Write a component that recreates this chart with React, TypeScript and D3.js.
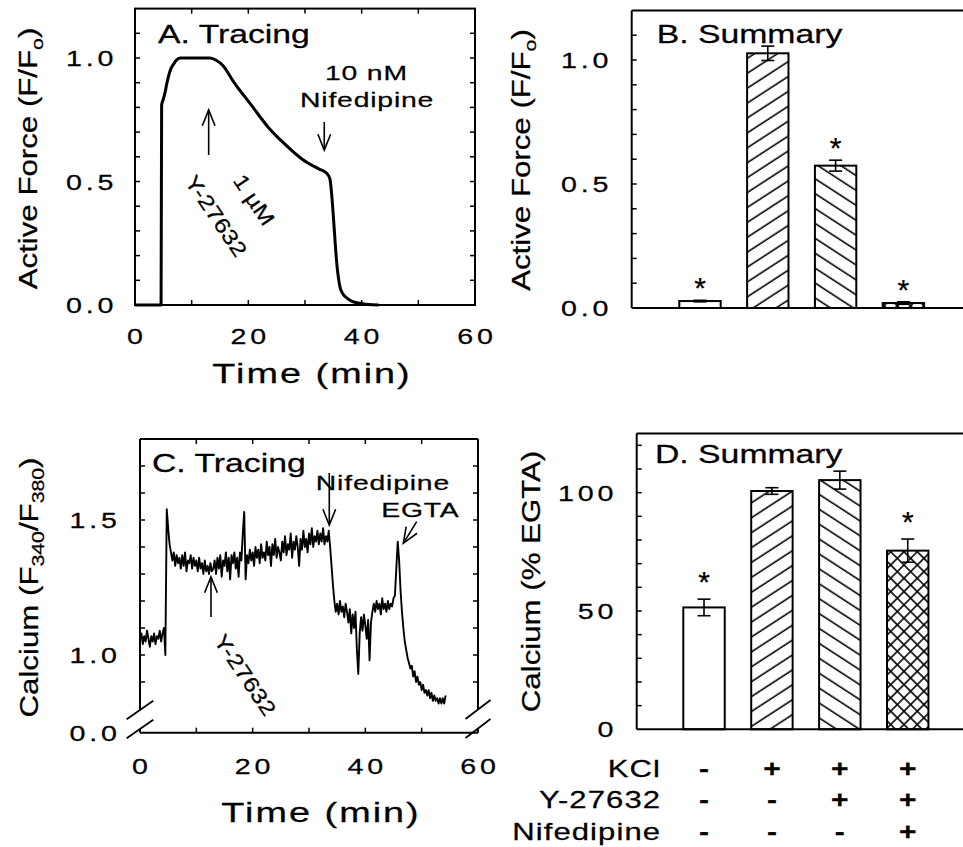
import React from "react";
import * as d3 from "d3";

// ---------- DATA ----------
// Panel A: active force tracing
const forceTime = [0, 4.6, 4.7, 4.95, 5.3, 5.6, 5.9, 6.3, 6.8, 7.4, 8.0, 13.2, 14.4, 15.5, 17.5, 20.5, 23.5, 26.5, 29.5, 32.5, 33.8, 34.4, 34.7, 35.0, 35.3, 35.6, 35.9, 36.2, 36.7, 37.4, 38.3, 39.7, 41.2, 43];
const forceValue = [0, 0, 0.81, 0.83, 0.86, 0.895, 0.925, 0.955, 0.975, 0.993, 1.0, 1.0, 0.99, 0.97, 0.9, 0.81, 0.72, 0.65, 0.59, 0.55, 0.534, 0.51, 0.45, 0.36, 0.26, 0.17, 0.11, 0.07, 0.045, 0.028, 0.015, 0.007, 0.002, 0];

// Panel C: calcium tracing (sampled every 0.25 min from t = 0)
const calciumStart = 0;
const calciumStep = 0.25;
const calciumValue = [
  1.06, 1.08, 1.04, 1.07, 1.05, 1.09, 1.06, 1.03, 1.07, 1.05, 1.08, 1.04, 1.07, 1.06, 1.09, 1.05,
  1.08, 1.10, 1.00, 1.54, 1.47, 1.41, 1.38, 1.35, 1.38, 1.33, 1.37, 1.34, 1.36, 1.32, 1.37, 1.33,
  1.38, 1.31, 1.35, 1.34, 1.37, 1.32, 1.36, 1.33, 1.35, 1.31, 1.36, 1.32, 1.34, 1.30, 1.35, 1.31,
  1.33, 1.30, 1.34, 1.31, 1.32, 1.35, 1.30, 1.36, 1.32, 1.37, 1.29, 1.35, 1.33, 1.38, 1.31, 1.36,
  1.28, 1.37, 1.34, 1.38, 1.32, 1.36, 1.29, 1.38, 1.35, 1.45, 1.53, 1.28, 1.37, 1.34, 1.39, 1.35,
  1.38, 1.33, 1.40, 1.36, 1.39, 1.34, 1.41, 1.36, 1.38, 1.35, 1.42, 1.37, 1.40, 1.33, 1.41, 1.37,
  1.43, 1.36, 1.40, 1.38, 1.35, 1.42, 1.38, 1.44, 1.37, 1.41, 1.39, 1.45, 1.36, 1.42, 1.39, 1.44,
  1.40, 1.33, 1.43, 1.39, 1.46, 1.40, 1.43, 1.38, 1.45, 1.41, 1.47, 1.40, 1.44, 1.42, 1.46, 1.41,
  1.45, 1.42, 1.47, 1.41, 1.44, 1.42, 1.46, 1.40, 1.33, 1.26, 1.20, 1.16, 1.19, 1.15, 1.20, 1.16,
  1.18, 1.14, 1.19, 1.16, 1.12, 1.17, 1.08, 1.15, 1.10, 1.16, 1.02, 0.93, 1.08, 1.14, 1.09, 1.15,
  1.11, 1.06, 1.13, 0.98, 1.12, 1.16, 1.19, 1.16, 1.20, 1.17, 1.19, 1.15, 1.21, 1.17, 1.19, 1.16,
  1.20, 1.17, 1.19, 1.18, 1.21, 1.22, 1.32, 1.42, 1.35, 1.24, 1.16, 1.10, 1.05, 1.02, 0.99, 0.97,
  0.95, 0.96, 0.92, 0.94, 0.90, 0.92, 0.89, 0.90, 0.87, 0.89, 0.86, 0.87, 0.85, 0.87, 0.84, 0.86,
  0.83, 0.85, 0.83, 0.84, 0.82, 0.84, 0.82, 0.84, 0.82, 0.85,
];

// Summary bars
const groups = ["Control", "KCl", "KCl+Y-27632", "KCl+Y-27632+Nifedipine"];
const groupPattern = ["none", "fwd", "back", "cross"];
const forceMean = [0.028, 1.027, 0.574, 0.02];
const forceErr = [0.003, 0.029, 0.022, 0.005];
const forceStar = [true, false, true, true];
const calciumMean = [51.5, 100.7, 105.3, 75.5];
const calciumErr = [3.5, 1.4, 3.8, 4.9];
const calciumStar = [true, false, false, true];

// Treatment table
const rowLabels = ["KCl", "Y-27632", "Nifedipine"];
const rowSigns = [
  ["-", "+", "+", "+"],
  ["-", "-", "+", "+"],
  ["-", "-", "-", "+"],
];

// Tick labels
const timeTicks = [0, 20, 40, 60];
const forceTicks = [0, 0.5, 1.0];
const calciumRatioTicks = [1.0, 1.5];
const calciumPctTicks = [0, 50, 100];

// ---------- LAYOUT ----------
const FONT = "'Liberation Sans', Arial, Helvetica, sans-serif";
const W = 963;
const H = 847;

const xA = d3.scaleLinear().domain([0, 60]).range([135, 475]);
const yA = d3.scaleLinear().domain([0, 1.2]).range([305, 8.6]);
const yB = d3.scaleLinear().domain([0, 1.2]).range([308, 10.4]);
const xB = d3.scaleBand<string>().domain(groups).range([645.4, 958]).paddingInner(0.39).paddingOuter(0.5);
const xC = d3.scaleLinear().domain([0, 60]).range([140, 478]);
const yC = d3.scaleLinear().domain([0.8, 1.8]).range([709, 439]);
const yC0 = 732.7;
const yD = d3.scaleLinear().domain([0, 125]).range([729.3, 433.5]);
const xD = d3.scaleBand<string>().domain(groups).range([649.35, 962.4]).paddingInner(0.39).paddingOuter(0.5);

const fmt1 = d3.format(".1f");

function T(props: any) {
  const { x, y, size = 21, anchor = "start", sx = 1.35, ls = 0, rot = 0, weight = 400, children } = props;
  const dx = anchor === "end" ? ls : anchor === "middle" ? ls / 2 : 0;
  return (
    <g transform={`translate(${x},${y}) rotate(${rot}) scale(${sx},1)`}>
      <text x={dx} y={0} fontSize={size} textAnchor={anchor} letterSpacing={ls} fontFamily={FONT} fontWeight={weight} fill="#000" stroke="#000" strokeWidth={0.25}>
        {children}
      </text>
    </g>
  );
}

function Arrow({ x1, y1, x2, y2 }: any) {
  const ang = Math.atan2(y2 - y1, x2 - x1);
  const L = 17;
  const a = (22 * Math.PI) / 180;
  const p1 = [x2 - L * Math.cos(ang - a), y2 - L * Math.sin(ang - a)];
  const p2 = [x2 - L * Math.cos(ang + a), y2 - L * Math.sin(ang + a)];
  return (
    <g stroke="#000" strokeWidth={1.6} fill="none">
      <line x1={x1} y1={y1} x2={x2} y2={y2} />
      <polyline points={`${p1[0]},${p1[1]} ${x2},${y2} ${p2[0]},${p2[1]}`} />
    </g>
  );
}

function Bars({ xs, ys, mean, err, star, starOff }: any) {
  const bw = xs.bandwidth();
  const base = ys(0);
  return (
    <g>
      {groups.map((g, i) => {
        const x0 = xs(g);
        const top = ys(mean[i]);
        const pat = groupPattern[i];
        const cx = x0 + bw / 2;
        const eT = ys(mean[i] + err[i]);
        const eB = ys(mean[i] - err[i]);
        return (
          <g key={g}>
            <rect x={x0} y={top} width={bw} height={base - top} fill="#fff" />
            {pat !== "none" && <rect x={x0} y={top} width={bw} height={base - top} fill={`url(#${pat})`} />}
            <rect x={x0} y={top} width={bw} height={base - top} fill="none" stroke="#000" strokeWidth={2} />
            <g stroke="#000" strokeWidth={1.6}>
              <line x1={cx} x2={cx} y1={eT} y2={eB} />
              <line x1={cx - 6.5} x2={cx + 6.5} y1={eT} y2={eT} />
              <line x1={cx - 6.5} x2={cx + 6.5} y1={eB} y2={eB} />
            </g>
            {star[i] && (
              <T x={cx} y={eT - starOff + 17} size={30} anchor="middle" sx={1}>
                *
              </T>
            )}
          </g>
        );
      })}
    </g>
  );
}

export default function App() {
  const lineA = d3
    .line<number>()
    .x((_, i) => xA(forceTime[i]))
    .y((v) => yA(v))
    .curve(d3.curveMonotoneX)(forceValue);
  const lineC = d3
    .line<number>()
    .x((_, i) => xC(calciumStart + i * calciumStep))
    .y((v) => yC(v))(calciumValue);

  const tenTicks = d3.range(10, 60, 10);
  const aYMinor = d3.range(1, 12).map((k) => k / 10);
  const cYMinor = d3.range(9, 18).map((k) => k / 10);
  const dYMinor = d3.range(10, 121, 10);

  const tickLab = { size: 22, sx: 1.3, ls: 3 };

  return (
    <svg width={W} height={H} style={{ position: "absolute", left: 0, top: 0, background: "#fff" }} xmlns="http://www.w3.org/2000/svg">
      <defs>
        <pattern id="fwd" patternUnits="userSpaceOnUse" width={20} height={12.5} patternTransform="rotate(-33)">
          <line x1={-1} y1={6} x2={21} y2={6} stroke="#000" strokeWidth={1.6} />
        </pattern>
        <pattern id="back" patternUnits="userSpaceOnUse" width={20} height={12.5} patternTransform="rotate(33)">
          <line x1={-1} y1={6} x2={21} y2={6} stroke="#000" strokeWidth={1.6} />
        </pattern>
        <pattern id="cross" patternUnits="userSpaceOnUse" width={9.4} height={9.4} patternTransform="rotate(45)">
          <line x1={-1} y1={4.7} x2={10.4} y2={4.7} stroke="#000" strokeWidth={1.6} />
          <line x1={4.7} y1={-1} x2={4.7} y2={10.4} stroke="#000" strokeWidth={1.6} />
        </pattern>
      </defs>
      <rect x={0} y={0} width={W} height={H} fill="#fff" />

      {/* ================= Panel A ================= */}
      <g stroke="#000" strokeWidth={2} fill="none">
        <rect x={xA(0)} y={yA(1.2)} width={xA(60) - xA(0)} height={yA(0) - yA(1.2)} />
        {aYMinor.map((v) => (
          <g key={v}>
            <line x1={xA(0)} x2={xA(0) + 5} y1={yA(v)} y2={yA(v)} strokeWidth={1.5} />
            <line x1={xA(60)} x2={xA(60) - 5} y1={yA(v)} y2={yA(v)} strokeWidth={1.5} />
          </g>
        ))}
        {tenTicks.map((t) => (
          <g key={t}>
            <line x1={xA(t)} x2={xA(t)} y1={yA(0)} y2={yA(0) - 5} strokeWidth={1.5} />
            <line x1={xA(t)} x2={xA(t)} y1={yA(1.2)} y2={yA(1.2) + 5} strokeWidth={1.5} />
          </g>
        ))}
      </g>
      <path d={lineA || ""} fill="none" stroke="#000" strokeWidth={3} strokeLinejoin="round" />
      {forceTicks.map((v) => (
        <T key={v} x={113.5} y={yA(v) + 8} anchor="end" {...tickLab}>
          {fmt1(v)}
        </T>
      ))}
      {timeTicks.map((t) => (
        <T key={t} x={xA(t)} y={343.5} anchor="middle" {...tickLab}>
          {t}
        </T>
      ))}
      <T x={311} y={383} size={28} anchor="middle" sx={1.35} ls={1.5}>
        Time (min)
      </T>
      <T x={37} y={158.5} size={25} anchor="middle" sx={1.25} rot={-90}>
        Active Force (F/F<tspan fontSize={17} dy={6}>o</tspan>
        <tspan dy={-6}>)</tspan>
      </T>
      <T x={158} y={43} size={25}>
        A. Tracing
      </T>
      <T x={366} y={80} anchor="middle" ls={0.6}>
        10 nM
      </T>
      <T x={366.7} y={106.7} anchor="middle" ls={0.6}>
        Nifedipine
      </T>
      <Arrow x1={xA(33.4)} y1={122} x2={xA(33.4)} y2={150} />
      <Arrow x1={xA(13.0)} y1={155} x2={xA(13.0)} y2={110} />
      <T x={210} y={220} anchor="middle" rot={56} sx={1.2}>
        Y-27632
      </T>
      <T x={248} y={204} anchor="middle" rot={56} sx={1.2}>
        1 µM
      </T>

      {/* ================= Panel B ================= */}
      <g stroke="#000" strokeWidth={2} fill="none">
        <line x1={631.7} x2={W + 5} y1={yB(1.2)} y2={yB(1.2)} />
        <line x1={631.7} x2={631.7} y1={yB(1.2)} y2={yB(0)} />
        {aYMinor.map((v) => (
          <line key={v} x1={631.7} x2={636.7} y1={yB(v)} y2={yB(v)} strokeWidth={1.5} />
        ))}
      </g>
      <Bars xs={xB} ys={yB} mean={forceMean} err={forceErr} star={forceStar} starOff={19} />
      <line x1={631.7} x2={W + 5} y1={yB(0)} y2={yB(0)} stroke="#000" strokeWidth={2} />
      {forceTicks.map((v) => (
        <T key={v} x={608.5} y={yB(v) + 8} anchor="end" {...tickLab}>
          {fmt1(v)}
        </T>
      ))}
      <T x={530} y={160} size={25} anchor="middle" sx={1.25} rot={-90}>
        Active Force (F/F<tspan fontSize={17} dy={6}>o</tspan>
        <tspan dy={-6}>)</tspan>
      </T>
      <T x={656.7} y={43} size={25}>
        B. Summary
      </T>

      {/* ================= Panel C ================= */}
      <g stroke="#000" strokeWidth={2} fill="none">
        <line x1={xC(0)} x2={xC(60)} y1={yC(1.8)} y2={yC(1.8)} />
        <line x1={xC(0)} x2={xC(60)} y1={yC0} y2={yC0} />
        <line x1={xC(0)} x2={xC(0)} y1={yC(1.8)} y2={710} />
        <line x1={xC(0)} x2={xC(0)} y1={729} y2={yC0} />
        <line x1={xC(60)} x2={xC(60)} y1={yC(1.8)} y2={709} />
        <line x1={xC(60)} x2={xC(60)} y1={728} y2={yC0} />
        <line x1={xC(0) - 13.3} y1={719.3} x2={xC(0) + 13.3} y2={700.7} strokeWidth={1.8} />
        <line x1={xC(0) - 13.3} y1={738.3} x2={xC(0) + 13.3} y2={719.7} strokeWidth={1.8} />
        <line x1={xC(60) - 12.5} y1={719} x2={xC(60) + 12.5} y2={700} strokeWidth={1.8} />
        <line x1={xC(60) - 12.5} y1={738} x2={xC(60) + 12.5} y2={719} strokeWidth={1.8} />
        {cYMinor.map((v) => (
          <g key={v}>
            <line x1={xC(0)} x2={xC(0) + 5} y1={yC(v)} y2={yC(v)} strokeWidth={1.5} />
            <line x1={xC(60)} x2={xC(60) - 5} y1={yC(v)} y2={yC(v)} strokeWidth={1.5} />
          </g>
        ))}
        {tenTicks.map((t) => (
          <g key={t}>
            <line x1={xC(t)} x2={xC(t)} y1={yC0} y2={yC0 - 5} strokeWidth={1.5} />
            <line x1={xC(t)} x2={xC(t)} y1={yC(1.8)} y2={yC(1.8) + 5} strokeWidth={1.5} />
          </g>
        ))}
      </g>
      <path d={lineC || ""} fill="none" stroke="#000" strokeWidth={1.9} strokeLinejoin="round" />
      {calciumRatioTicks.map((v) => (
        <T key={v} x={117} y={yC(v) + 8} anchor="end" {...tickLab}>
          {fmt1(v)}
        </T>
      ))}
      <T x={117} y={yC0 + 8} anchor="end" {...tickLab}>
        {fmt1(0)}
      </T>
      {timeTicks.map((t) => (
        <T key={t} x={xC(t)} y={773.5} anchor="middle" {...tickLab}>
          {t}
        </T>
      ))}
      <T x={320} y={821.7} size={28} anchor="middle" sx={1.35} ls={1.5}>
        Time (min)
      </T>
      <T x={38} y={587.5} size={25} anchor="middle" sx={1.25} rot={-90}>
        Calcium (F<tspan fontSize={17} dy={6}>340</tspan>
        <tspan dy={-6}>/F</tspan>
        <tspan fontSize={17} dy={6}>380</tspan>
        <tspan dy={-6}>)</tspan>
      </T>
      <T x={152} y={472} size={25}>
        C. Tracing
      </T>
      <T x={382.5} y={490} anchor="middle" ls={0.6}>
        Nifedipine
      </T>
      <T x={420} y={516.7} anchor="middle" ls={0.6}>
        EGTA
      </T>
      <Arrow x1={xC(33.6)} y1={473} x2={xC(33.6)} y2={525} />
      <Arrow x1={416.7} y1={521.7} x2={403.3} y2={543.3} />
      <Arrow x1={xC(12.6)} y1={617} x2={xC(12.6)} y2={577} />
      <T x={239} y={679} anchor="middle" rot={56} sx={1.2}>
        Y-27632
      </T>

      {/* ================= Panel D ================= */}
      <g stroke="#000" strokeWidth={2} fill="none">
        <line x1={636.7} x2={W + 5} y1={yD(125)} y2={yD(125)} />
        <line x1={636.7} x2={636.7} y1={yD(125)} y2={yD(0)} />
        {dYMinor.map((v) => (
          <line key={v} x1={636.7} x2={641.7} y1={yD(v)} y2={yD(v)} strokeWidth={1.5} />
        ))}
      </g>
      <Bars xs={xD} ys={yD} mean={calciumMean} err={calciumErr} star={calciumStar} starOff={24} />
      <line x1={636.7} x2={W + 5} y1={yD(0)} y2={yD(0)} stroke="#000" strokeWidth={2} />
      {calciumPctTicks.map((v) => (
        <T key={v} x={613.5} y={yD(v) + 8} anchor="end" {...tickLab}>
          {v}
        </T>
      ))}
      <T x={540} y={581.5} size={25} anchor="middle" sx={1.25} rot={-90}>
        Calcium (% EGTA)
      </T>
      <T x={655} y={463.3} size={25}>
        D. Summary
      </T>

      {/* Treatment table */}
      {rowLabels.map((lab, r) => (
        <g key={lab}>
          <T x={660} y={776.7 + r * 31.7} size={23} anchor="end" ls={0.8}>
            {lab}
          </T>
          {groups.map((g, i) => (
            <T key={g} x={(xD(g) as number) + xD.bandwidth() / 2} y={776.7 + r * 31.7} size={24} anchor="middle" sx={1.25} weight={700}>
              {rowSigns[r][i]}
            </T>
          ))}
        </g>
      ))}
    </svg>
  );
}
